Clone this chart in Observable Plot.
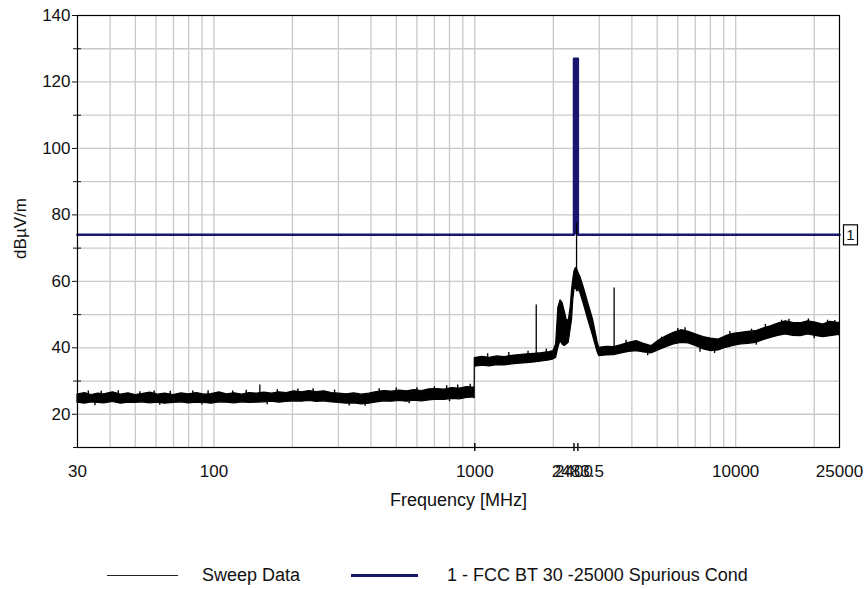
<!DOCTYPE html>
<html>
<head>
<meta charset="utf-8">
<script src="https://cdn.jsdelivr.net/npm/d3@7"></script>
<script src="https://cdn.jsdelivr.net/npm/@observablehq/plot@0.6"></script>
<style>
  body { margin: 0; background: #fff; font-family: "Liberation Sans", Arial, sans-serif; }
  #chart { position: relative; width: 865px; height: 589px; background: #fff; }
  #chart svg { display: block; }
  .key-line { position: absolute; height: 0; }
  .key-text { position: absolute; font-size: 18px; line-height: 20px; color: #111; white-space: nowrap; }
</style>
</head>
<body>
<div id="chart"></div>
<script>
// Sweep trace (MHz) with the lower and upper edge of the noise band (dBµV/m)
const sweepFreq = [
  30, 32, 34, 36, 38, 41, 44, 47, 50, 53,
  57, 61, 65, 70, 75, 80, 86, 92, 98, 105,
  112, 120, 128, 137, 146, 156, 167, 178, 190, 203,
  217, 232, 248, 265, 283, 302, 323, 345, 369, 394,
  421, 450, 481, 514, 549, 587, 627, 670, 716, 765,
  818, 874, 934, 990, 999,
  1000, 1068, 1141, 1219, 1302, 1390, 1485, 1586, 1694, 1809,
  1932, 2000, 2050, 2090, 2130, 2170, 2210, 2250, 2290, 2330,
  2360, 2385, 2410, 2440, 2470, 2500, 2540, 2620, 2720, 2840,
  2960,
  3000, 3200, 3420, 3650, 3900, 4170, 4450, 4750, 5080, 5420,
  5790, 6190, 6610, 7060, 7540, 8050, 8600, 9180, 9810, 10480,
  11190, 11950, 12760, 13630, 14560, 15550, 16610, 17740, 18950, 20230,
  21610, 23080, 24500, 25000
];
const sweepLow = [
  23.5, 23.2, 23.6, 23.4, 23.3, 23.7, 23.2, 23.5, 23.4, 23.6,
  23.3, 23.5, 23.2, 23.4, 23.6, 23.3, 23.5, 23.4, 23.2, 23.6,
  23.5, 23.3, 23.6, 23.4, 23.5, 23.6, 23.8, 23.5, 23.7, 23.9,
  23.8, 24.0, 23.7, 23.9, 23.6, 23.4, 23.2, 23.3, 23.0, 23.2,
  23.6, 23.9, 23.8, 24.0, 23.8, 24.1, 23.9, 24.2, 24.4, 24.3,
  24.6, 24.5, 24.9, 25.1, 24.8,
  34.3, 34.6, 34.4, 34.8, 34.7, 35.0, 35.2, 35.4, 35.6, 35.9,
  36.2, 36.5, 37.0, 40.0, 42.0, 41.0, 40.5, 41.0, 41.5, 45.5,
  48.5, 54.5, 57.5, 58.0, 57.0, 57.5, 56.5, 53.0, 48.5, 43.5,
  38.5,
  37.5, 37.7, 37.8, 38.3, 38.8, 39.0, 38.6, 38.3, 39.3, 40.2,
  41.0, 41.5, 41.3, 40.5, 39.5, 39.0, 39.2, 40.0, 40.6, 41.0,
  41.2, 41.5, 42.3, 43.0, 43.6, 44.0, 43.6, 43.5, 44.0, 43.6,
  43.2, 43.5, 43.8, 43.8
];
const sweepHigh = [
  25.9, 26.4, 25.8, 26.2, 26.0, 26.6, 25.9, 26.3, 25.8, 26.1,
  26.5, 25.9, 26.2, 25.8, 26.3, 26.0, 26.4, 25.9, 26.1, 26.6,
  26.0, 26.3, 25.9, 26.4, 26.2, 26.5, 26.2, 26.6, 26.4, 26.9,
  26.6, 27.0, 26.7, 26.9, 26.4, 26.2, 26.0, 26.3, 25.9, 26.2,
  26.7, 27.0, 26.8, 27.1, 26.9, 27.3, 27.0, 27.5, 27.6, 27.4,
  27.9, 27.7, 28.2, 28.0, 27.8,
  36.9, 37.3, 37.0, 37.4, 37.2, 37.6, 37.8, 38.0, 38.2, 38.4,
  38.7, 39.0, 41.0, 52.0, 54.3, 53.5, 51.0, 48.5, 48.0, 52.0,
  57.5, 60.5, 63.0, 64.0, 63.5, 62.5, 61.3, 58.0, 53.5, 48.5,
  41.5,
  40.0, 40.3, 40.2, 40.8, 41.5, 42.0, 41.2, 40.5, 42.2, 43.5,
  44.5, 45.3, 44.8, 44.0, 43.2, 42.8, 42.5, 43.5, 44.2, 44.5,
  44.8, 45.0, 45.8, 46.5, 47.3, 48.0, 47.5, 47.4, 48.0, 47.6,
  47.0, 47.8, 47.5, 47.5
];

// Short noise excursions past the band edges: frequency, start level, end level
const noiseFreq = [
  33, 35, 37, 43, 52, 59, 62, 68, 83, 90, 95, 118, 133, 160, 175, 210, 240, 290, 330, 380,
  430, 500, 560, 600, 700, 780, 800, 860, 960,
  1120, 1350, 1600, 1880,
  3800, 4600, 5200, 6000, 6400, 7300, 8300, 9500, 11500, 12000, 13000, 15000, 16000, 19000, 20000, 22500, 24000
];
const noiseFrom = [
  25.0, 24.5, 25.0, 25.0, 25.0, 24.5, 24.5, 25.0, 25.0, 24.5, 25.0, 25.0, 25.0, 24.5, 25.2, 25.3, 25.3, 25.0, 24.5, 24.3,
  25.3, 25.5, 24.8, 25.5, 26.0, 26.0, 25.0, 26.3, 26.5,
  36.0, 36.3, 36.8, 37.3,
  40.0, 39.5, 40.8, 43.0, 43.2, 41.0, 40.8, 42.0, 43.0, 42.5, 44.5, 46.0, 46.0, 46.0, 44.5, 45.5, 45.5
];
const noiseTo = [
  27.0, 22.6, 26.9, 27.1, 26.8, 27.0, 22.7, 26.9, 27.0, 22.8, 27.1, 27.0, 27.2, 22.9, 27.4, 27.6, 27.7, 27.3, 22.5, 22.4,
  27.7, 27.9, 23.2, 28.0, 28.3, 28.6, 23.8, 28.8, 29.0,
  38.2, 38.6, 39.0, 39.6,
  42.3, 37.6, 43.2, 45.8, 46.0, 38.7, 38.3, 44.9, 45.6, 40.8, 47.0, 48.3, 48.6, 48.7, 42.7, 48.3, 48.2
];

// Narrow spurious spikes above the noise band
const spikeFreq = [150, 1720, 2455, 3420];
const spikeBase = [26.0, 37.5, 63.0, 40.0];
const spikeTop  = [28.8, 52.9, 77.5, 58.0];

// FCC limit line with the in-band notch (2400–2483.5 MHz)
const limitFreq  = [30, 2400, 2400, 2483.5, 2483.5, 25000];
const limitLevel = [74, 74, 127, 127, 74, 74];

// Axis ticks and grid
const xLabelTicks = [30, 100, 1000, 2400, 2483.5, 10000, 25000];
const xTickMarks  = [1000, 2400, 2483.5];
const xGrid = [40, 50, 60, 70, 80, 90, 100, 200, 300, 400, 500, 600, 700, 800, 900,
               1000, 2000, 3000, 4000, 5000, 6000, 7000, 8000, 9000, 10000, 20000];
const yTicks = [20, 40, 60, 80, 100, 120, 140];
const yMinor = [10, 30, 50, 70, 90, 110, 130];
const yGrid  = [20, 30, 40, 50, 60, 70, 80, 90, 100, 110, 120, 130];

const xTitle = "Frequency [MHz]";
const yTitle = "dBµV/m";
const sweepName = "Sweep Data";
const limitName = "1 - FCC BT 30 -25000 Spurious Cond";
const limitTag = "1";

const limitColor = "#17176e";

const sweep = sweepFreq.map((f, i) => ({f, lo: sweepLow[i], hi: sweepHigh[i]}));
const noise = noiseFreq.map((f, i) => ({f, a: noiseFrom[i], b: noiseTo[i]}));
const spikes = spikeFreq.map((f, i) => ({f, base: spikeBase[i], top: spikeTop[i]}));
const limit = limitFreq.map((f, i) => ({f, v: limitLevel[i]}));
// the notch of the limit line, filled
const notch = [{x1: limitFreq[2], x2: limitFreq[3], y1: limitLevel[1], y2: limitLevel[2]}];

const plot = Plot.plot({
  width: 865,
  height: 540,
  marginLeft: 77,
  marginRight: 26,
  marginTop: 15,
  marginBottom: 93,
  style: {fontFamily: "Liberation Sans, Arial, sans-serif", fontSize: "17px", background: "#fff", color: "#111", overflow: "visible"},
  x: {type: "log", domain: [30, 25000]},
  y: {domain: [10, 140]},
  marks: [
    Plot.gridX(xGrid, {stroke: "#c9c9c9", strokeOpacity: 1, strokeWidth: 1.3}),
    Plot.gridY(yGrid, {stroke: "#c9c9c9", strokeOpacity: 1, strokeWidth: 1.3}),
    Plot.rect(notch, {x1: "x1", x2: "x2", y1: "y1", y2: "y2", fill: limitColor}),
    Plot.line(limit, {x: "f", y: "v", stroke: limitColor, strokeWidth: 2.5, strokeLinejoin: "round", strokeLinecap: "round"}),
    Plot.areaY(sweep, {x: "f", y1: "lo", y2: "hi", fill: "#000", stroke: "#000", strokeWidth: 1.2}),
    Plot.ruleX(noise, {x: "f", y1: "a", y2: "b", stroke: "#000", strokeWidth: 1.4}),
    Plot.ruleX(spikes, {x: "f", y1: "base", y2: "top", stroke: "#000", strokeWidth: 1.3}),
    Plot.frame({stroke: "#000", strokeWidth: 1.2}),
    Plot.axisY(yTicks, {tickSize: 5, tickPadding: 2, label: null, fontSize: 17}),
    Plot.axisY(yMinor, {tickSize: 8, dx: 4, text: null, label: null}),
    Plot.axisX(xLabelTicks, {tickSize: 0, tickPadding: 17, tickFormat: d => String(d), label: null, fontSize: 17}),
    Plot.axisX(xTickMarks, {tickSize: 8, dy: -4, text: null, label: null, strokeWidth: 1.5}),
    Plot.text([yTitle], {frameAnchor: "left", textAnchor: "middle", dx: -57, dy: -3, rotate: -90, fontSize: 17}),
    Plot.text([xTitle], {frameAnchor: "bottom", textAnchor: "middle", dy: 58, fontSize: 18}),
    Plot.text([{f: 25000, v: 74, t: limitTag}], {
      x: "f", y: "v", text: "t", dx: 11, fontSize: 15,
      render(index, scales, values, dimensions, context, next) {
        const g = next(index, scales, values, dimensions, context);
        for (const i of index) {
          d3.select(g).insert("rect", ":first-child")
            .attr("x", values.x[i] - 7).attr("y", values.y[i] - 10)
            .attr("width", 14).attr("height", 20)
            .attr("fill", "#fff").attr("stroke", "#000").attr("stroke-width", 1.2);
        }
        return g;
      }
    })
  ]
});

const chart = document.getElementById("chart");
chart.appendChild(plot);

// Legend below the plot
function addKey(x1, x2, color, width, label, textX) {
  const line = document.createElement("div");
  line.className = "key-line";
  Object.assign(line.style, {left: x1 + "px", width: (x2 - x1) + "px", top: (575 - width / 2) + "px", borderTop: `${width}px solid ${color}`});
  chart.appendChild(line);
  const text = document.createElement("div");
  text.className = "key-text";
  text.textContent = label;
  Object.assign(text.style, {left: textX + "px", top: "565px"});
  chart.appendChild(text);
}
addKey(107, 178, "#222", 1, sweepName, 202);
addKey(351, 418, limitColor, 3, limitName, 447);
</script>
</body>
</html>
